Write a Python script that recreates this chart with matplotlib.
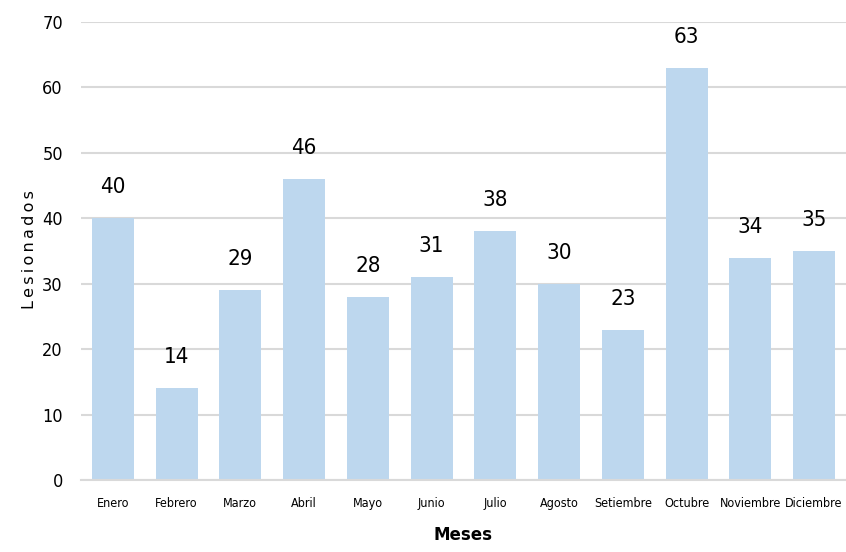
import numpy as np
import matplotlib.pyplot as plt
from matplotlib import rc

rc('font', **{'family': ['DejaVu Sans'], 'size': 10})

meses = ['Enero', 'Febrero', 'Marzo', 'Abril', 'Mayo', 'Junio', 'Julio',
         'Agosto', 'Setiembre', 'Octubre', 'Noviembre', 'Diciembre']
lesionados = [40, 14, 29, 46, 28, 31, 38, 30, 23, 63, 34, 35]

fig = plt.figure(figsize=(8.46, 5.52), dpi=100)
ax = fig.add_axes([0.0957, 0.1304, 0.9043, 0.8296])

x = np.arange(len(meses))
ax.bar(x, lesionados, width=0.66, color='#BDD7EE', zorder=2)

for xi, v in zip(x, lesionados):
    ax.text(xi, v + 3.2, str(v), ha='center', va='bottom', fontsize=16,
            fontstretch='condensed')

ax.set_xlim(-0.5, len(meses) - 0.5)
ax.set_ylim(0, 70)
ax.set_yticks(np.arange(0, 70.1, 10))
ax.set_xticks(x)
ax.set_xticklabels(meses, fontsize=9, fontstretch='condensed')
for lab in ax.get_yticklabels():
    lab.set_fontstretch('condensed')
ax.tick_params(axis='y', labelsize=13, length=0, pad=13)
ax.tick_params(axis='x', length=0, pad=12)

ax.yaxis.grid(True, color='#D9D9D9', linewidth=1.5, zorder=0)
for s in ['top', 'right', 'left']:
    ax.spines[s].set_visible(False)
ax.spines['bottom'].set_color('#D9D9D9')
ax.spines['bottom'].set_linewidth(1.5)

ax.set_xlabel('Meses', fontsize=12, fontweight='bold', labelpad=12)
fig.text(30 / 846, 1 - 250 / 552, 'L\u2009e\u2009s\u2009i\u2009o\u2009n\u2009a\u2009d\u2009o\u2009s',
         rotation=90, ha='center', va='center', fontsize=11.5)

plt.savefig('out.png', dpi=100)
